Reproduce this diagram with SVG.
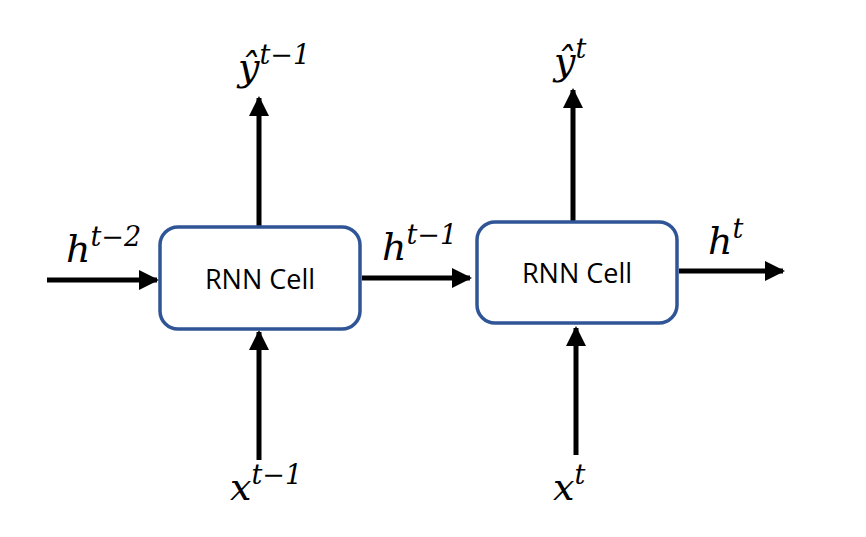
<svg xmlns="http://www.w3.org/2000/svg" width="866" height="537" viewBox="0 0 866 537">
<style>
.box{fill:#fff;stroke:#2F5597;stroke-width:3.5}
.lbl{font-family:"Open Sans","Liberation Sans",sans-serif;font-size:27px;fill:#000}
.m{font-family:"DejaVu Serif","Liberation Serif",serif;font-style:italic;font-size:38px;fill:#000}
.s{font-size:27px;font-style:italic}
.c line{stroke:#000;stroke-width:5}
</style>
<defs>
<marker id="a" markerWidth="4" markerHeight="4" refX="3.6" refY="2" orient="auto" markerUnits="strokeWidth"><path d="M0,0L4,2L0,4z" fill="#000"/></marker>
</defs>
<g class="c">
<line x1="47" y1="280" x2="157" y2="280" marker-end="url(#a)"/>
<line x1="259" y1="227" x2="259" y2="98" marker-end="url(#a)"/>
<line x1="259" y1="460" x2="259" y2="332" marker-end="url(#a)"/>
<line x1="362" y1="278" x2="470" y2="278" marker-end="url(#a)"/>
<line x1="573" y1="222" x2="573" y2="90" marker-end="url(#a)"/>
<line x1="576" y1="455" x2="576" y2="328" marker-end="url(#a)"/>
<line x1="679" y1="271" x2="783" y2="271" marker-end="url(#a)"/>
</g>
<g id="cell1"><rect class="box" x="160" y="227" width="200" height="102" rx="18"/><text class="lbl" x="260" y="289" text-anchor="middle">RNN Cell</text></g>
<g id="cell2"><rect class="box" x="477" y="222" width="200" height="101" rx="18"/><text class="lbl" x="577" y="283" text-anchor="middle">RNN Cell</text></g>
<g id="labels">
<text class="m" x="66" y="262">h<tspan class="s" dy="-16">t−2</tspan></text>
<text class="m" x="382" y="260">h<tspan class="s" dy="-16">t−1</tspan></text>
<text class="m" x="708" y="254">h<tspan class="s" dy="-16">t</tspan></text>
<text class="m" x="238" y="80">ŷ<tspan class="s" dy="-16">t−1</tspan></text>
<text class="m" x="554" y="74">ŷ<tspan class="s" dy="-16">t</tspan></text>
<text class="m" x="230" y="500">x<tspan class="s" dy="-16">t−1</tspan></text>
<text class="m" x="553" y="500">x<tspan class="s" dy="-16">t</tspan></text>
</g>
</svg>
